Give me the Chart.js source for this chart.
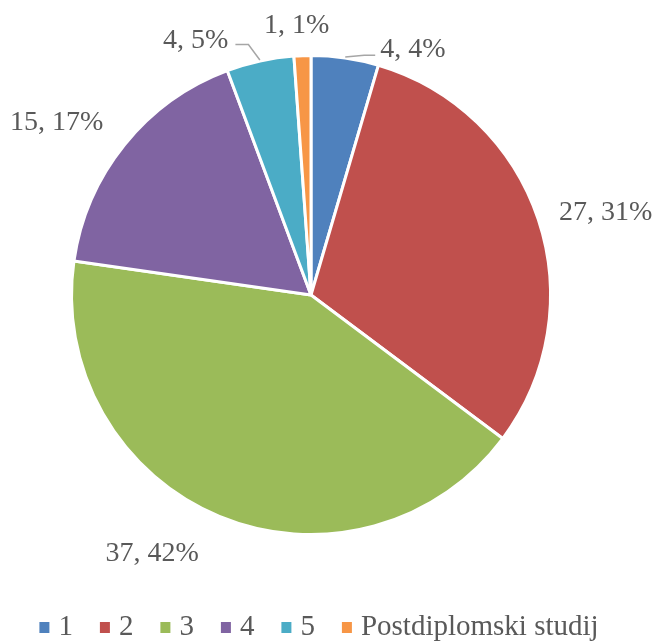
<!DOCTYPE html>
<html>
<head>
<meta charset="utf-8">
<script src="https://cdn.jsdelivr.net/npm/chart.js@4.4.0/dist/chart.umd.min.js"></script>
<style>
  body { margin: 0; background: #fff; }
  canvas { display: block; }
</style>
</head>
<body>
<canvas id="pieChart" width="656" height="641"></canvas>
<script>
// chart data
const categories = ['1', '2', '3', '4', '5', 'Postdiplomski studij'];
const counts = [4, 27, 37, 15, 4, 1];
const percentLabels = ['4%', '31%', '42%', '17%', '5%', '1%'];
const sliceColors = ['#4F81BD', '#C0504D', '#9BBB59', '#8064A2', '#4BACC6', '#F79646'];

// label tweaks (Excel moves the small ones around)
const labelNudge = [[32, 27], [0, 0], [-12, 3], [-4, 6], [-27, 15], [-5, 6]];
const hasLeader = [true, false, false, false, true, false];

const textColor = '#595959';
const fontFamily = '"Liberation Serif", "Times New Roman", serif';

const labelsPlugin = {
  id: 'pieLabels',
  afterDatasetsDraw(chart) {
    const ctx = chart.ctx;
    const meta = chart.getDatasetMeta(0);
    ctx.save();
    ctx.font = '28px ' + fontFamily;
    meta.data.forEach((arc, i) => {
      const p = arc.getProps(['x', 'y', 'startAngle', 'endAngle', 'outerRadius'], true);
      const mid = (p.startAngle + p.endAngle) / 2;
      const cos = Math.cos(mid), sin = Math.sin(mid);
      let ax = p.x + cos * (p.outerRadius + 22) + labelNudge[i][0];
      let ay = p.y + sin * (p.outerRadius + 22) + labelNudge[i][1];
      let align = cos > 0.1 ? 'left' : (cos < -0.1 ? 'right' : 'center');
      let base = sin > 0.5 ? 'top' : (sin < -0.5 ? 'bottom' : 'middle');
      const text = counts[i] + ', ' + percentLabels[i];
      ctx.textAlign = align;
      ctx.textBaseline = base;
      ctx.fillStyle = textColor;
      ctx.fillText(text, ax, ay);

      if (hasLeader[i]) {
        const ex = p.x + cos * (p.outerRadius + 1);
        const ey = p.y + sin * (p.outerRadius + 1);
        const lineY = ay - 8;
        ctx.strokeStyle = '#A6A6A6';
        ctx.lineWidth = 1.5;
        ctx.beginPath();
        ctx.moveTo(ex, ey);
        if (align === 'left') {
          ctx.lineTo(ax - 16, lineY);
          ctx.lineTo(ax - 5, lineY);
        } else {
          ctx.lineTo(ax + 20, lineY - 2);
          ctx.lineTo(ax + 7, lineY - 2);
        }
        ctx.stroke();
      }
    });
    ctx.restore();
  }
};

const legendPlugin = {
  id: 'bottomLegend',
  afterDraw(chart) {
    const ctx = chart.ctx;
    ctx.save();
    ctx.font = '29px ' + fontFamily;
    const box = 10, boxGap = 9, itemGap = 27;
    let total = 0;
    categories.forEach((c, i) => {
      total += box + boxGap + ctx.measureText(c).width;
      if (i < categories.length - 1) total += itemGap;
    });
    let x = 319 - total / 2;
    const baseline = 635;
    ctx.textAlign = 'left';
    ctx.textBaseline = 'alphabetic';
    categories.forEach((c, i) => {
      ctx.fillStyle = sliceColors[i];
      ctx.fillRect(x, 622, box, box + 1);
      x += box + boxGap;
      ctx.fillStyle = textColor;
      ctx.fillText(c, x, baseline);
      x += ctx.measureText(c).width + itemGap;
    });
    ctx.restore();
  }
};

new Chart(document.getElementById('pieChart').getContext('2d'), {
  type: 'pie',
  data: {
    labels: categories,
    datasets: [{
      data: counts,
      backgroundColor: sliceColors,
      borderColor: '#FFFFFF',
      borderWidth: 3
    }]
  },
  options: {
    responsive: false,
    animation: false,
    layout: {
      padding: { top: 54, bottom: 105, left: 70, right: 104 }
    },
    plugins: {
      legend: { display: false },
      tooltip: { enabled: false }
    }
  },
  plugins: [labelsPlugin, legendPlugin]
});
</script>
</body>
</html>
